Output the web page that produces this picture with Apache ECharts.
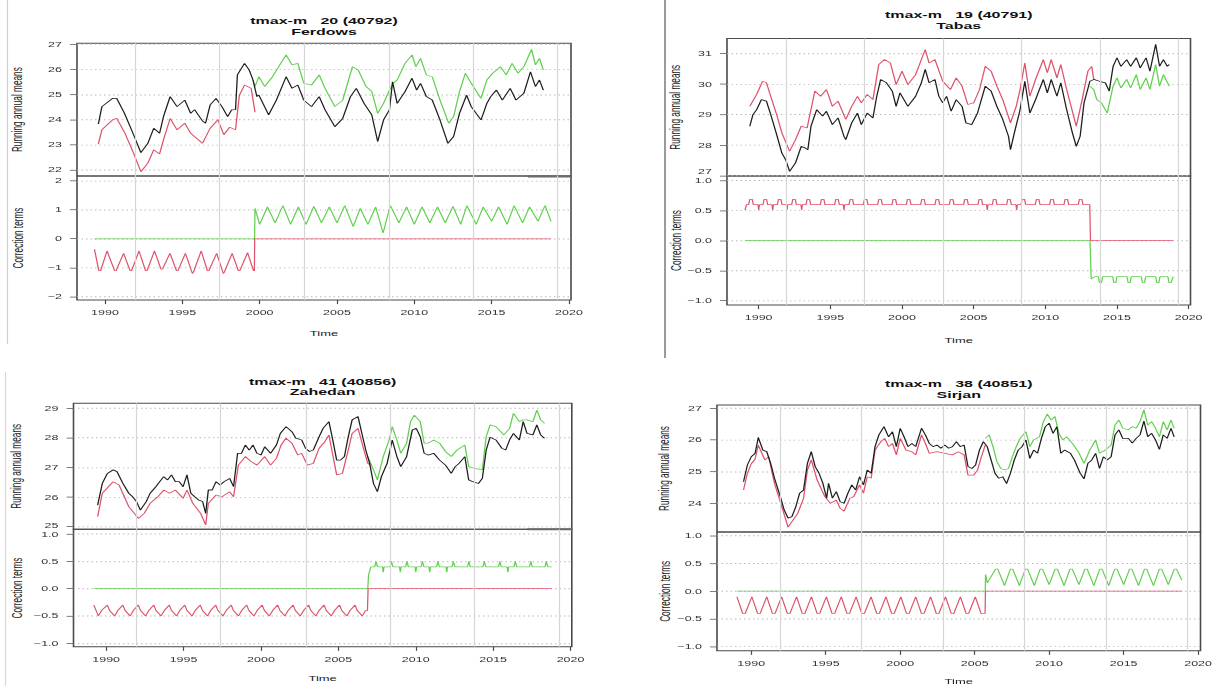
<!DOCTYPE html>
<html>
<head>
<meta charset="utf-8">
<script src="https://cdn.jsdelivr.net/npm/echarts@6/dist/echarts.min.js"></script>
<style>
html,body{margin:0;padding:0;background:#fff;overflow:hidden;width:1217px;height:686px;}
#wrap{width:1217px;height:686px;overflow:hidden;position:relative;}
#chart{width:1217px;transform-origin:0 0;position:absolute;left:0;top:0;}
</style>
</head>
<body>
<div id="wrap"><div id="chart"></div></div>
<script>
// ---------------- DATA ----------------
const yearTicks = [1990, 1995, 2000, 2005, 2010, 2015, 2020];
const gridYears = [1991.95, 1997.4, 2002.9, 2008.35, 2013.8, 2019.25];

// Ferdows
const ferTitle = ['tmax-m   20 (40792)', 'Ferdows'];
const ferTopTicks = [22, 23, 24, 25, 26, 27];
const ferBotTicks = [-2, -1, 0, 1, 2];
const ferBlack = [[1989.57,23.83],[1989.8,24.52],[1990.5,24.85],[1990.76,24.85],[1991.26,24.25],[1991.76,23.53],[1992.32,22.69],[1992.77,23.06],[1993.15,23.66],[1993.53,23.46],[1993.78,24.12],[1994.21,24.92],[1994.66,24.52],[1995.16,24.78],[1995.54,24.25],[1995.79,24.4],[1996.3,23.95],[1996.5,23.86],[1996.8,24.59],[1997.18,24.85],[1997.56,24.52],[1997.93,24.12],[1998.19,24.39],[1998.44,24.4],[1998.56,25.78],[1999.02,26.24],[1999.32,25.98],[1999.57,25.58],[1999.82,24.92],[1999.95,24.98],[2000.58,24.19],[2001.08,24.78],[2001.71,25.71],[2002.09,25.25],[2002.47,25.38],[2002.85,24.78],[2003.35,24.52],[2003.85,24.92],[2004.23,24.39],[2004.86,23.72],[2005.37,24.05],[2005.87,24.92],[2006.25,25.25],[2006.75,24.65],[2007.25,24.19],[2007.63,23.13],[2008.01,23.99],[2008.39,24.39],[2008.59,25.51],[2008.89,24.65],[2009.4,25.12],[2009.85,25.65],[2010.15,25.18],[2010.4,25.45],[2010.78,24.92],[2011.16,24.78],[2011.66,23.99],[2012.17,23.06],[2012.54,23.33],[2012.92,24.25],[2013.38,24.98],[2013.68,24.52],[2014.31,23.99],[2014.69,24.65],[2014.94,24.92],[2015.31,25.18],[2015.69,24.78],[2016.2,25.25],[2016.57,24.78],[2017.08,25.05],[2017.51,25.91],[2017.83,25.32],[2018.09,25.58],[2018.34,25.18]];
const ferRed = [[1989.57,23.03],[1989.8,23.6],[1990.5,24.0],[1990.76,24.05],[1991.26,23.5],[1991.76,22.8],[1992.32,21.93],[1992.77,22.27],[1993.15,22.8],[1993.53,22.64],[1993.78,23.2],[1994.21,24.05],[1994.66,23.6],[1995.16,23.86],[1995.54,23.46],[1996.3,23.06],[1996.8,23.66],[1997.3,24.0],[1997.68,23.4],[1998.06,23.7],[1998.44,23.6],[1998.69,24.98],[1999.02,25.38],[1999.45,25.25],[1999.7,24.3]];
const ferGreen = [[1999.57,25.58],[1999.7,25.32],[1999.95,25.71],[2000.33,25.32],[2000.83,25.71],[2001.71,26.58],[2002.09,26.18],[2002.47,26.24],[2002.85,25.45],[2003.35,25.38],[2003.85,25.78],[2004.23,25.25],[2004.86,24.52],[2005.37,24.78],[2006.0,26.11],[2006.37,25.98],[2006.88,25.32],[2007.25,25.12],[2007.63,24.25],[2008.01,24.65],[2008.39,25.18],[2008.64,25.45],[2008.89,25.58],[2009.4,26.24],[2009.85,26.58],[2010.1,26.11],[2010.4,26.44],[2010.78,25.78],[2011.16,25.71],[2011.66,24.78],[2012.22,23.86],[2012.54,24.12],[2012.92,25.12],[2013.3,25.85],[2013.68,25.45],[2014.31,24.85],[2014.69,25.58],[2015.06,25.85],[2015.57,26.11],[2015.94,25.78],[2016.32,26.24],[2016.7,25.85],[2017.08,26.11],[2017.58,26.8],[2017.83,26.18],[2018.09,26.44],[2018.34,25.98]];
const ferCorrRed = [[1989.32,-0.36],[1989.6,-1.1],[1989.72,-1.1],[1990.13,-0.42],[1990.62,-1.1],[1990.72,-1.1],[1991.2,-0.5],[1991.62,-1.1],[1991.72,-1.1],[1992.2,-0.42],[1992.62,-1.1],[1992.72,-1.1],[1993.2,-0.42],[1993.62,-1.05],[1993.72,-1.05],[1994.2,-0.5],[1994.62,-1.1],[1994.72,-1.1],[1995.2,-0.5],[1995.65,-1.2],[1995.72,-1.15],[1996.22,-0.42],[1996.62,-1.1],[1996.72,-1.1],[1997.22,-0.5],[1997.65,-1.2],[1997.72,-1.15],[1998.22,-0.5],[1998.62,-1.1],[1998.72,-1.1],[1999.22,-0.48],[1999.6,-1.1],[1999.66,-1.1],[1999.68,0],[2018.84,0]];
const ferCorrGreen = [[1989.32,0],[1999.67,0],[1999.7,1.05],[2000.0,0.5],[2000.5,1.1],[2001.0,0.55],[2001.5,1.15],[2002.0,0.5],[2002.5,1.1],[2003.0,0.5],[2003.5,1.12],[2004.0,0.55],[2004.5,1.1],[2005.0,0.55],[2005.5,1.15],[2006.05,0.42],[2006.5,1.05],[2007.0,0.5],[2007.5,1.1],[2007.98,0.2],[2008.45,1.15],[2009.0,0.55],[2009.5,1.1],[2010.0,0.5],[2010.5,1.1],[2011.0,0.55],[2011.5,1.1],[2012.0,0.55],[2012.5,1.12],[2013.0,0.5],[2013.4,1.15],[2014.0,0.5],[2014.45,1.1],[2015.0,0.6],[2015.45,1.1],[2016.0,0.5],[2016.45,1.15],[2017.0,0.55],[2017.45,1.1],[2018.0,0.6],[2018.45,1.15],[2018.84,0.6]];

// Tabas
const tabTitle = ['tmax-m   19 (40791)', 'Tabas'];
const tabTopTicks = [27, 28, 29, 30, 31];
const tabBotTicks = [-1, -0.5, 0, 0.5, 1];
const tabBlack = [[1989.38,28.62],[1989.6,29.0],[1989.86,29.16],[1990.19,29.49],[1990.54,29.44],[1990.81,29.05],[1991.22,28.4],[1991.62,27.74],[1991.89,27.52],[1992.16,27.14],[1992.57,27.42],[1992.97,27.96],[1993.24,27.91],[1993.43,27.85],[1993.65,28.62],[1994.05,29.16],[1994.46,28.95],[1994.73,29.11],[1995.14,28.67],[1995.54,28.89],[1995.95,28.29],[1996.08,28.18],[1996.49,28.73],[1996.89,29.05],[1997.16,28.67],[1997.57,29.05],[1997.97,28.89],[1998.24,29.6],[1998.51,30.15],[1998.92,30.04],[1999.32,29.77],[1999.59,29.27],[1999.86,29.71],[2000.41,29.27],[2000.95,29.6],[2001.35,30.04],[2001.62,30.48],[2001.89,30.04],[2002.3,30.15],[2002.57,29.6],[2002.84,29.38],[2003.11,29.6],[2003.43,29.11],[2003.78,29.49],[2004.19,29.27],[2004.46,28.73],[2004.86,28.67],[2005.27,29.05],[2005.81,29.93],[2006.22,29.77],[2006.62,29.27],[2007.03,28.84],[2007.43,28.29],[2007.57,27.85],[2007.84,28.4],[2008.24,29.16],[2008.57,30.09],[2008.92,29.05],[2009.32,29.49],[2009.86,30.15],[2010.14,29.71],[2010.41,30.15],[2010.81,29.6],[2011.08,30.04],[2011.49,29.16],[2011.89,28.4],[2012.16,27.96],[2012.43,28.29],[2012.7,29.38],[2013.11,30.09],[2013.38,30.15],[2013.78,30.09],[2014.19,30.04],[2014.46,29.77],[2014.73,30.58],[2015.0,30.86],[2015.27,30.58],[2015.68,30.8],[2015.95,30.58],[2016.35,30.86],[2016.62,30.53],[2017.03,30.86],[2017.3,30.42],[2017.7,31.3],[2017.97,30.58],[2018.24,30.8],[2018.51,30.58],[2018.65,30.64]];
const tabRed = [[1989.38,29.27],[1989.86,29.66],[1990.27,30.09],[1990.54,30.04],[1991.22,29.05],[1991.62,28.4],[1992.16,27.8],[1992.57,28.18],[1992.97,28.62],[1993.38,28.56],[1993.92,29.77],[1994.32,29.6],[1994.73,29.82],[1995.14,29.27],[1995.54,29.44],[1996.08,28.84],[1996.49,29.27],[1996.89,29.6],[1997.16,29.38],[1997.57,29.66],[1997.97,29.49],[1998.38,30.64],[1998.78,30.8],[1999.19,30.69],[1999.59,29.98],[2000.0,30.42],[2000.41,29.98],[2000.95,30.31],[2001.62,31.13],[2001.89,30.69],[2002.3,30.8],[2002.84,30.09],[2003.38,29.82],[2003.78,30.2],[2004.19,29.93],[2004.59,29.33],[2005.0,29.38],[2005.41,29.82],[2005.81,30.58],[2006.22,30.42],[2006.62,29.93],[2007.03,29.49],[2007.57,28.73],[2007.97,29.27],[2008.24,29.82],[2008.57,30.69],[2008.92,29.6],[2009.32,30.15],[2009.86,30.8],[2010.14,30.37],[2010.41,30.8],[2010.81,30.2],[2011.08,30.64],[2011.49,29.82],[2012.16,28.62],[2012.57,29.49],[2012.97,30.42],[2013.24,30.58],[2013.38,30.15]];
const tabGreen = [[2013.11,29.93],[2013.38,29.82],[2013.59,29.49],[2013.92,29.38],[2014.32,29.05],[2014.73,29.93],[2015.0,30.2],[2015.27,29.87],[2015.68,30.15],[2015.95,29.87],[2016.35,30.31],[2016.62,29.82],[2017.03,30.2],[2017.3,29.82],[2017.7,30.64],[2017.97,29.93],[2018.24,30.31],[2018.65,29.93]];
const tabCorrRed = [[1989.05,0.51],[1989.15,0.6],[1989.3,0.6],[1989.38,0.69],[1989.55,0.69],[1989.63,0.6],[1989.95,0.6],[1990.0,0.51],[1990.05,0.6],
[1990.3,0.6],[1990.38,0.69],[1990.55,0.69],[1990.63,0.6],[1990.93,0.6],[1990.98,0.51],[1991.03,0.6],
[1991.3,0.6],[1991.38,0.69],[1991.55,0.69],[1991.63,0.6],[1991.93,0.6],[1991.98,0.51],[1992.03,0.6],
[1992.3,0.6],[1992.38,0.69],[1992.55,0.69],[1992.63,0.6],[1992.95,0.6],[1993.0,0.51],[1993.05,0.6],
[1993.3,0.6],[1993.38,0.69],[1993.55,0.69],[1993.63,0.6],
[1994.3,0.6],[1994.38,0.69],[1994.55,0.69],[1994.63,0.6],
[1995.3,0.6],[1995.38,0.69],[1995.55,0.69],[1995.63,0.6],[1995.9,0.6],[1995.95,0.51],[1996.0,0.6],
[1996.3,0.6],[1996.38,0.69],[1996.55,0.69],[1996.63,0.6],
[1997.3,0.6],[1997.38,0.69],[1997.55,0.69],[1997.63,0.6],
[1998.3,0.6],[1998.38,0.69],[1998.55,0.69],[1998.63,0.6],
[1999.3,0.6],[1999.38,0.69],[1999.55,0.69],[1999.63,0.6],
[2000.3,0.6],[2000.38,0.69],[2000.55,0.69],[2000.63,0.6],
[2001.3,0.6],[2001.38,0.69],[2001.55,0.69],[2001.63,0.6],
[2002.3,0.6],[2002.38,0.69],[2002.55,0.69],[2002.63,0.6],
[2003.3,0.6],[2003.38,0.69],[2003.55,0.69],[2003.63,0.6],
[2004.3,0.6],[2004.38,0.69],[2004.55,0.69],[2004.63,0.6],
[2005.3,0.6],[2005.38,0.69],[2005.55,0.69],[2005.63,0.6],[2005.9,0.6],[2005.95,0.51],[2006.0,0.6],
[2006.3,0.6],[2006.38,0.69],[2006.55,0.69],[2006.63,0.6],
[2007.3,0.6],[2007.38,0.69],[2007.55,0.69],[2007.63,0.6],[2007.95,0.6],[2008.0,0.51],[2008.05,0.6],
[2008.3,0.6],[2008.38,0.69],[2008.55,0.69],[2008.63,0.6],
[2009.3,0.6],[2009.38,0.69],[2009.55,0.69],[2009.63,0.6],
[2010.3,0.6],[2010.38,0.69],[2010.55,0.69],[2010.63,0.6],
[2011.3,0.6],[2011.38,0.69],[2011.55,0.69],[2011.63,0.6],
[2012.3,0.6],[2012.38,0.69],[2012.55,0.69],[2012.63,0.6],
[2013.1,0.6],[2013.15,0],[2018.92,0]];
const tabCorrGreen = [[1989.05,0],[2013.12,0],[2013.2,-0.64],[2013.45,-0.6],[2013.7,-0.6],[2013.78,-0.7],[2013.92,-0.7],[2014.0,-0.6],[2014.7,-0.6],[2014.78,-0.7],[2014.92,-0.7],[2015.0,-0.6],[2015.7,-0.6],[2015.78,-0.7],[2015.92,-0.7],[2016.0,-0.6],[2016.7,-0.6],[2016.78,-0.7],[2016.92,-0.7],[2017.0,-0.6],[2017.7,-0.6],[2017.78,-0.7],[2017.92,-0.7],[2018.0,-0.6],[2018.55,-0.6],[2018.63,-0.7],[2018.78,-0.7],[2018.92,-0.6]];

// Zahedan
const zahTitle = ['tmax-m   41 (40856)', 'Zahedan'];
const zahTopTicks = [25, 26, 27, 28, 29];
const zahBotTicks = [-1, -0.5, 0, 0.5, 1];
const zahBlack = [[1989.45,25.73],[1989.75,26.46],[1990.08,26.8],[1990.45,26.92],[1990.7,26.86],[1991.08,26.46],[1991.46,26.13],[1991.71,26.01],[1991.96,25.85],[1992.21,25.56],[1992.59,25.85],[1992.84,26.13],[1993.21,26.35],[1993.46,26.52],[1993.72,26.69],[1993.97,26.58],[1994.22,26.75],[1994.47,26.52],[1994.72,26.52],[1994.97,26.35],[1995.22,26.75],[1995.47,26.13],[1995.72,26.01],[1995.98,25.9],[1996.23,25.85],[1996.43,25.45],[1996.6,26.24],[1996.85,26.24],[1997.1,26.52],[1997.36,26.41],[1997.61,26.52],[1997.98,26.63],[1998.23,26.35],[1998.49,27.48],[1998.74,27.48],[1998.99,27.76],[1999.24,27.59],[1999.49,27.76],[1999.74,27.48],[2000.0,27.42],[2000.24,27.7],[2000.62,27.48],[2001.0,27.76],[2001.25,28.15],[2001.62,28.38],[2002.0,28.21],[2002.25,27.99],[2002.63,27.93],[2002.88,27.65],[2003.13,27.54],[2003.38,27.59],[2003.76,28.04],[2004.01,28.32],[2004.39,28.55],[2004.64,27.93],[2004.89,27.25],[2005.14,27.25],[2005.39,27.37],[2005.64,28.04],[2005.89,28.61],[2006.27,28.72],[2006.52,28.15],[2006.77,27.59],[2007.02,27.14],[2007.27,26.46],[2007.52,26.18],[2007.78,26.69],[2008.15,27.14],[2008.48,27.93],[2008.78,27.37],[2009.03,27.03],[2009.41,27.37],[2009.78,28.27],[2010.03,28.32],[2010.29,28.04],[2010.54,27.48],[2010.79,27.42],[2011.16,27.48],[2011.54,27.25],[2011.92,27.08],[2012.29,26.8],[2012.55,27.03],[2012.8,27.14],[2013.17,27.37],[2013.42,26.58],[2013.68,26.52],[2014.05,26.46],[2014.3,26.63],[2014.55,27.59],[2014.8,28.02],[2015.18,27.93],[2015.56,27.65],[2015.81,27.59],[2016.06,27.93],[2016.31,28.15],[2016.69,27.93],[2016.94,28.55],[2017.19,28.15],[2017.57,28.1],[2017.82,28.44],[2018.07,28.1],[2018.32,27.99]];
const zahRed = [[1989.45,25.34],[1989.75,26.13],[1990.45,26.52],[1990.83,26.41],[1991.46,25.68],[1992.08,25.28],[1992.46,25.45],[1992.84,25.79],[1993.34,26.01],[1993.72,26.24],[1994.09,26.13],[1994.47,26.24],[1994.97,25.96],[1995.22,26.24],[1995.6,25.79],[1996.1,25.45],[1996.43,25.06],[1996.6,25.79],[1997.1,26.07],[1997.48,26.01],[1997.98,26.18],[1998.23,26.01],[1998.54,27.08],[1998.99,27.37],[1999.36,27.2],[1999.74,27.08],[2000.24,27.37],[2000.62,27.08],[2001.0,27.31],[2001.3,27.76],[2001.62,27.99],[2002.0,27.82],[2002.38,27.42],[2002.63,27.48],[2003.0,27.08],[2003.38,27.14],[2003.76,27.65],[2004.13,27.87],[2004.39,28.1],[2004.64,27.42],[2004.89,26.75],[2005.26,26.8],[2005.64,27.59],[2005.89,28.15],[2006.27,28.32],[2006.65,27.59],[2006.9,27.14],[2007.07,27.08]];
const zahGreen = [[2006.9,27.37],[2007.27,26.92],[2007.52,26.58],[2007.9,27.37],[2008.28,27.93],[2008.48,28.38],[2008.78,27.93],[2009.03,27.48],[2009.41,27.82],[2009.66,28.55],[2009.91,28.77],[2010.29,28.55],[2010.54,27.82],[2010.79,27.82],[2011.16,27.93],[2011.54,27.82],[2011.92,27.54],[2012.29,27.37],[2012.67,27.59],[2013.17,27.76],[2013.42,27.03],[2013.8,26.97],[2014.3,26.92],[2014.55,28.04],[2014.8,28.44],[2015.18,28.38],[2015.69,28.1],[2016.06,28.32],[2016.31,28.83],[2016.69,28.55],[2016.94,28.61],[2017.19,28.61],[2017.57,28.55],[2017.82,28.94],[2018.07,28.61],[2018.32,28.49]];
const zahCorrRed = [[1989.2,-0.3],[1989.35,-0.4],[1989.5,-0.5],[1989.7,-0.4],
[1990.08,-0.3],[1990.22,-0.4],[1990.55,-0.5],[1990.75,-0.4],
[1991.08,-0.3],[1991.22,-0.4],[1991.55,-0.5],[1991.75,-0.4],
[1992.08,-0.3],[1992.22,-0.4],[1992.55,-0.5],[1992.75,-0.4],
[1993.08,-0.3],[1993.22,-0.4],[1993.55,-0.5],[1993.75,-0.4],
[1994.08,-0.3],[1994.22,-0.4],[1994.55,-0.5],[1994.75,-0.4],
[1995.08,-0.3],[1995.22,-0.4],[1995.55,-0.5],[1995.75,-0.4],
[1996.08,-0.3],[1996.22,-0.4],[1996.55,-0.5],[1996.75,-0.4],
[1997.08,-0.3],[1997.22,-0.4],[1997.55,-0.5],[1997.75,-0.4],
[1998.08,-0.3],[1998.22,-0.4],[1998.55,-0.5],[1998.75,-0.4],
[1999.08,-0.3],[1999.22,-0.4],[1999.55,-0.5],[1999.75,-0.4],
[2000.08,-0.3],[2000.22,-0.4],[2000.55,-0.5],[2000.75,-0.4],
[2001.08,-0.3],[2001.22,-0.4],[2001.55,-0.5],[2001.75,-0.4],
[2002.08,-0.3],[2002.22,-0.4],[2002.55,-0.5],[2002.75,-0.4],
[2003.08,-0.3],[2003.22,-0.4],[2003.55,-0.5],[2003.75,-0.4],
[2004.08,-0.3],[2004.22,-0.4],[2004.55,-0.5],[2004.75,-0.4],
[2005.08,-0.3],[2005.22,-0.4],[2005.55,-0.5],[2005.75,-0.4],
[2006.08,-0.3],[2006.22,-0.4],[2006.55,-0.5],[2006.75,-0.4],[2006.88,-0.4],[2006.92,0],[2018.78,0]];
const zahCorrGreen = [[1989.2,0],[2006.9,0],[2006.95,0.25],[2007.1,0.4],[2007.35,0.4],[2007.43,0.5],[2007.52,0.4],[2007.85,0.4],[2007.9,0.3],[2007.95,0.4],
[2008.35,0.4],[2008.43,0.5],[2008.52,0.4],[2008.95,0.4],[2009.0,0.3],[2009.05,0.4],
[2009.35,0.4],[2009.43,0.5],[2009.52,0.4],[2009.95,0.4],[2010.0,0.3],[2010.05,0.4],
[2010.35,0.4],[2010.43,0.5],[2010.52,0.4],[2010.85,0.4],[2010.9,0.3],[2010.95,0.4],
[2011.35,0.4],[2011.43,0.5],[2011.52,0.4],[2011.95,0.4],[2012.0,0.3],[2012.05,0.4],
[2012.35,0.4],[2012.43,0.5],[2012.52,0.4],
[2013.35,0.4],[2013.43,0.5],[2013.52,0.4],
[2014.35,0.4],[2014.43,0.5],[2014.52,0.4],
[2015.35,0.4],[2015.43,0.5],[2015.52,0.4],[2015.9,0.4],[2015.95,0.3],[2016.0,0.4],
[2016.35,0.4],[2016.43,0.5],[2016.52,0.4],
[2017.35,0.4],[2017.43,0.5],[2017.52,0.4],
[2018.35,0.4],[2018.43,0.5],[2018.52,0.4],[2018.78,0.4]];

// Sirjan
const sirTitle = ['tmax-m   38 (40851)', 'Sirjan'];
const sirTopTicks = [24, 25, 26, 27];
const sirBotTicks = [-1, -0.5, 0, 0.5, 1];
const sirBlack = [[1989.48,24.68],[1989.74,25.21],[1990.0,25.47],[1990.26,25.58],[1990.47,26.08],[1990.78,25.68],[1991.04,25.63],[1991.3,25.26],[1991.56,24.79],[1991.95,24.21],[1992.21,23.79],[1992.47,23.53],[1992.73,23.58],[1992.99,23.89],[1993.25,24.32],[1993.51,24.42],[1993.77,25.26],[1994.03,25.63],[1994.29,25.16],[1994.55,24.95],[1994.81,24.63],[1995.06,24.16],[1995.19,24.63],[1995.45,24.16],[1995.71,24.37],[1995.97,24.05],[1996.23,24.0],[1996.49,24.32],[1996.75,24.58],[1997.01,24.42],[1997.27,24.84],[1997.53,24.58],[1997.79,25.05],[1998.05,24.95],[1998.31,25.79],[1998.57,26.16],[1998.91,26.42],[1999.22,26.1],[1999.48,26.26],[1999.74,25.79],[2000.0,26.37],[2000.26,26.1],[2000.52,25.79],[2000.78,25.89],[2001.04,25.79],[2001.43,26.37],[2001.69,26.16],[2001.95,25.89],[2002.21,25.79],[2002.47,25.84],[2002.73,25.74],[2002.99,25.84],[2003.25,25.74],[2003.51,25.79],[2003.77,25.95],[2004.03,25.79],[2004.29,25.84],[2004.55,25.16],[2004.81,25.1],[2005.06,25.21],[2005.32,25.68],[2005.58,25.95],[2005.84,25.79],[2006.1,25.37],[2006.36,24.95],[2006.62,24.79],[2006.88,24.84],[2007.14,24.62],[2007.4,24.95],[2007.66,25.37],[2007.92,25.68],[2008.18,25.79],[2008.44,26.0],[2008.7,25.42],[2008.96,25.68],[2009.22,25.58],[2009.48,26.05],[2009.74,26.42],[2010.0,26.53],[2010.26,26.21],[2010.52,26.42],[2010.78,25.58],[2011.04,25.68],[2011.43,25.58],[2011.69,25.37],[2012.08,24.95],[2012.34,24.77],[2012.6,25.26],[2012.86,25.37],[2013.12,25.58],[2013.38,25.1],[2013.64,25.47],[2013.9,25.37],[2014.16,25.47],[2014.42,26.16],[2014.68,26.32],[2014.94,26.05],[2015.32,26.05],[2015.58,25.9],[2015.84,26.05],[2016.1,26.16],[2016.36,26.6],[2016.62,26.1],[2016.88,26.21],[2017.14,26.0],[2017.4,25.7],[2017.66,26.16],[2017.92,26.05],[2018.18,26.37],[2018.39,26.1]];
const sirRed = [[1989.48,24.42],[1989.74,24.95],[1990.0,25.25],[1990.26,25.4],[1990.47,25.84],[1990.91,25.37],[1991.17,25.47],[1991.56,24.63],[1991.95,24.05],[1992.47,23.25],[1992.73,23.42],[1993.12,23.68],[1993.51,24.16],[1993.77,25.05],[1994.03,25.37],[1994.42,24.74],[1994.94,24.21],[1995.32,24.0],[1995.71,24.1],[1995.97,23.84],[1996.23,23.75],[1996.62,24.16],[1996.88,24.21],[1997.27,24.58],[1997.53,24.32],[1997.79,24.84],[1998.05,24.79],[1998.31,25.68],[1998.7,25.95],[1998.96,26.05],[1999.22,25.79],[1999.48,25.89],[1999.74,25.53],[2000.0,26.05],[2000.39,25.68],[2000.78,25.63],[2001.04,25.53],[2001.43,26.16],[2001.69,25.89],[2001.95,25.58],[2002.47,25.63],[2002.99,25.58],[2003.51,25.53],[2003.9,25.63],[2004.29,25.53],[2004.55,24.89],[2004.94,24.89],[2005.19,25.05],[2005.45,25.47],[2005.71,25.84]];
const sirGreen = [[2005.71,26.05],[2005.97,26.16],[2006.23,25.79],[2006.49,25.32],[2006.75,25.1],[2007.01,25.05],[2007.27,25.1],[2007.53,25.47],[2007.79,25.79],[2008.05,26.05],[2008.44,26.26],[2008.7,25.79],[2008.96,26.0],[2009.35,26.1],[2009.61,26.58],[2009.87,26.82],[2010.13,26.63],[2010.39,26.74],[2010.65,26.21],[2010.91,26.0],[2011.17,26.1],[2011.56,25.89],[2011.95,25.63],[2012.34,25.26],[2012.73,25.68],[2013.12,26.0],[2013.38,25.58],[2013.77,25.68],[2014.16,25.84],[2014.42,26.47],[2014.68,26.63],[2014.94,26.37],[2015.32,26.32],[2015.58,26.42],[2015.84,26.37],[2016.1,26.58],[2016.36,26.95],[2016.62,26.47],[2016.88,26.58],[2017.14,26.37],[2017.4,26.1],[2017.66,26.58],[2017.92,26.32],[2018.18,26.63],[2018.39,26.37]];
const sirCorrRed = [[1989.04,-0.1],[1989.42,-0.4],[1989.6,-0.4],[1990.04,-0.1],[1990.42,-0.4],[1990.6,-0.4],[1991.04,-0.1],[1991.42,-0.4],[1991.6,-0.4],[1992.04,-0.1],[1992.42,-0.4],[1992.6,-0.4],[1993.04,-0.1],[1993.42,-0.4],[1993.6,-0.4],[1994.04,-0.1],[1994.42,-0.4],[1994.6,-0.4],[1995.04,-0.1],[1995.42,-0.4],[1995.6,-0.4],[1996.04,-0.1],[1996.42,-0.4],[1996.6,-0.4],[1997.04,-0.1],[1997.42,-0.4],[1997.6,-0.4],[1998.04,-0.1],[1998.42,-0.4],[1998.6,-0.4],[1999.04,-0.1],[1999.42,-0.4],[1999.6,-0.4],[2000.04,-0.1],[2000.42,-0.4],[2000.6,-0.4],[2001.04,-0.1],[2001.42,-0.4],[2001.6,-0.4],[2002.04,-0.1],[2002.42,-0.4],[2002.6,-0.4],[2003.04,-0.1],[2003.42,-0.4],[2003.6,-0.4],[2004.04,-0.1],[2004.42,-0.4],[2004.6,-0.4],[2005.04,-0.1],[2005.42,-0.4],[2005.7,-0.4],[2005.72,0],[2018.9,0]];
const sirCorrGreen = [[1989.04,0],[2005.71,0],[2005.73,0.3],[2005.85,0.15],[2006.4,0.4],[2006.55,0.4],[2007.0,0.1],[2007.4,0.4],[2007.55,0.4],[2008.0,0.1],[2008.4,0.4],[2008.55,0.4],[2009.0,0.1],[2009.4,0.4],[2009.55,0.4],[2010.0,0.12],[2010.4,0.4],[2010.55,0.4],[2011.0,0.1],[2011.4,0.4],[2011.55,0.4],[2012.0,0.12],[2012.4,0.4],[2012.55,0.4],[2013.0,0.1],[2013.4,0.4],[2013.55,0.4],[2014.0,0.1],[2014.4,0.4],[2014.55,0.4],[2015.0,0.12],[2015.4,0.4],[2015.55,0.4],[2016.0,0.1],[2016.4,0.4],[2016.55,0.4],[2017.0,0.1],[2017.4,0.4],[2017.55,0.4],[2018.0,0.12],[2018.4,0.4],[2018.55,0.4],[2018.9,0.2]];

// ---------------- LAYOUT / STYLE ----------------
const S = 0.59;                 // vertical squash of the reference picture
const H = 686 / S;
const Y = p => p / S;
const FONT = '"Liberation Sans", Arial, Helvetica, sans-serif';
const C_BLACK = '#1e1e1e', C_RED = '#DF536B', C_GREEN = '#61D04F';

const panels = [
  {title: ferTitle, black: ferBlack, red: ferRed, green: ferGreen, cRed: ferCorrRed, cGreen: ferCorrGreen,
   topTicks: ferTopTicks, botTicks: ferBotTicks, botDec: 0,
   L: 77, R: 571, T: 43.3, D: 176, B: 300, x: [1988.19, 2020.13], yTop: [21.76, 27.04], yBot: [-2.115, 2.17],
   t1: 20.7, t2: 31.7, nameX: 17.5, timeY: 333, seg: 2017.35, lift: 0},
  {title: tabTitle, black: tabBlack, red: tabRed, green: tabGreen, cRed: tabCorrRed, cGreen: tabCorrGreen,
   topTicks: tabTopTicks, botTicks: tabBotTicks, botDec: 1,
   L: 727, R: 1190.5, T: 38.5, D: 176, B: 305, x: [1987.79, 2020.13], yTop: [26.99, 31.49], yBot: [-1.072, 1.078],
   t1: 15, t2: 25.5, nameX: 675, timeY: 340, seg: null, lift: 14},
  {title: zahTitle, black: zahBlack, red: zahRed, green: zahGreen, cRed: zahCorrRed, cGreen: zahCorrGreen,
   topTicks: zahTopTicks, botTicks: zahBotTicks, botDec: 1,
   L: 73.5, R: 571.8, T: 403.3, D: 529.3, B: 646.7, x: [1987.89, 2020.08], yTop: [24.912, 29.169], yBot: [-1.062, 1.086],
   t1: 381.7, t2: 391.7, nameX: 16, timeY: 678, seg: 2017.2, lift: 4},
  {title: sirTitle, black: sirBlack, red: sirRed, green: sirGreen, cRed: sirCorrRed, cGreen: sirCorrGreen,
   topTicks: sirTopTicks, botTicks: sirBotTicks, botDec: 1,
   L: 717, R: 1200.5, T: 405, D: 532, B: 650.7, x: [1987.7, 2020.16], yTop: [23.094, 27.104], yBot: [-1.072, 1.067],
   t1: 384, t2: 394.5, nameX: 664, timeY: 681, seg: null, lift: 0}
];

const fmtNum = (v, dec) => (dec ? Number(v).toFixed(1) : String(Math.round(v))).replace('-', '\u2212');

const grids = [], xAxes = [], yAxes = [], series = [], graphics = [];
const LABEL_STYLE = {fontFamily: FONT, fontSize: 12.5, color: '#333'};

function lineSeries(gi, data, color, z, width) {
  return {type: 'line', xAxisIndex: gi, yAxisIndex: gi, data: data, showSymbol: false, symbol: 'none',
          lineStyle: {color: color, width: width}, z: z, silent: true, animation: false};
}

panels.forEach((p, i) => {
  const gT = 2 * i, gB = 2 * i + 1;
  const w = p.R - p.L;
  [[gT, p.T, p.D], [gB, p.D, p.B]].forEach(([gi, t, b]) => {
    grids.push({left: p.L, top: Y(t), width: w, height: Y(b) - Y(t), show: true,
                borderColor: '#4a4a4a', borderWidth: 1.6, backgroundColor: 'transparent', containLabel: false});
  });
  // x axes
  xAxes.push({type: 'value', gridIndex: gT, min: p.x[0], max: p.x[1],
              axisLine: {show: false, onZero: false}, axisTick: {show: false}, axisLabel: {show: false}, splitLine: {show: false}});
  xAxes.push({type: 'value', gridIndex: gB, min: p.x[0], max: p.x[1], position: 'bottom',
              axisLine: {show: false, onZero: false},
              axisTick: {show: true, length: 7, lineStyle: {color: '#4a4a4a', width: 1.2}, customValues: yearTicks},
              axisLabel: Object.assign({show: true, customValues: yearTicks, margin: 15,
                          formatter: v => String(Math.round(v))}, LABEL_STYLE),
              splitLine: {show: false}});
  // y axes
  [[gT, p.yTop, p.topTicks, 0, p.lift], [gB, p.yBot, p.botTicks, p.botDec, 0]].forEach(([gi, rng, ticks, dec, lift]) => {
    yAxes.push({type: 'value', gridIndex: gi, min: rng[0], max: rng[1],
                axisLine: {show: false, onZero: false},
                axisTick: {show: true, length: 7, lineStyle: {color: '#4a4a4a', width: 1.2}, customValues: ticks},
                axisLabel: Object.assign({show: true, customValues: ticks, margin: 15,
                            formatter: v => (lift && v === ticks[0]) ? '{up|' + fmtNum(v, dec) + '}' : fmtNum(v, dec),
                            rich: {up: Object.assign({padding: [0, 0, lift, 0]}, LABEL_STYLE)}}, LABEL_STYLE),
                splitLine: {show: true, lineStyle: {type: [1.5, 3], color: '#b8b8b8', width: 1.6}}});
  });
  // helper series carrying vertical grid lines
  [[gT, p.yTop], [gB, p.yBot]].forEach(([gi, rng]) => {
    const mlData = gridYears.map(v => ({xAxis: v}));
    if (gi === gT && p.seg !== null) {
      mlData.push([{coord: [p.seg, rng[0]], lineStyle: {color: '#6a6a6a', width: 3.5, type: 'solid'}},
                   {coord: [p.x[1], rng[0]]}]);
    }
    series.push({type: 'line', xAxisIndex: gi, yAxisIndex: gi, data: [[p.x[0], rng[0]]], symbol: 'none',
                 lineStyle: {opacity: 0}, silent: true, z: 1, animation: false,
                 markLine: {silent: true, animation: false, symbol: ['none', 'none'], label: {show: false},
                            lineStyle: {color: '#d6d6d6', width: 1.2, type: 'solid'}, data: mlData}});
  });
  // running annual means
  series.push(lineSeries(gT, p.red, C_RED, 3, 1.3));
  series.push(lineSeries(gT, p.green, C_GREEN, 3, 1.3));
  series.push(lineSeries(gT, p.black, C_BLACK, 4, 1.3));
  // correction terms
  series.push(lineSeries(gB, p.cGreen, C_GREEN, 3, 1.25));
  series.push(lineSeries(gB, p.cRed, C_RED, 4, 1.25));

  // titles
  const cx = (p.L + p.R) / 2;
  [[p.title[0], p.t1], [p.title[1], p.t2]].forEach(([txt, ty]) => {
    graphics.push({type: 'text', x: cx, y: Y(ty), silent: true,
      style: {text: txt, fontFamily: FONT, fontSize: 16, fontWeight: 'bold', fill: '#111',
              align: 'center', verticalAlign: 'middle', textAlign: 'center', textVerticalAlign: 'middle'}});
  });
  // axis names
  graphics.push({type: 'text', x: p.nameX, y: Y((p.T + p.D) / 2), rotation: Math.PI / 2, silent: true,
    style: {text: 'Running annual means', fontFamily: FONT, fontSize: 14, fill: '#222',
            align: 'center', verticalAlign: 'middle', textAlign: 'center', textVerticalAlign: 'middle'}});
  graphics.push({type: 'text', x: p.nameX + 1, y: Y((p.D + p.B) / 2), rotation: Math.PI / 2, silent: true,
    style: {text: 'Correction terms', fontFamily: FONT, fontSize: 14, fill: '#222',
            align: 'center', verticalAlign: 'middle', textAlign: 'center', textVerticalAlign: 'middle'}});
  graphics.push({type: 'text', x: cx, y: Y(p.timeY), silent: true,
    style: {text: 'Time', fontFamily: FONT, fontSize: 13, fill: '#222',
            align: 'center', verticalAlign: 'middle', textAlign: 'center', textVerticalAlign: 'middle'}});
});

// frame lines of the composed figure
graphics.push({type: 'line', silent: true, shape: {x1: 7.5, y1: 0, x2: 7.5, y2: Y(344)}, style: {stroke: '#d0d0d0', lineWidth: 1.2}});
graphics.push({type: 'line', silent: true, shape: {x1: 665, y1: 0, x2: 665, y2: Y(358)}, style: {stroke: '#9a9a9a', lineWidth: 2}});
graphics.push({type: 'line', silent: true, shape: {x1: 5.5, y1: Y(372), x2: 5.5, y2: H}, style: {stroke: '#d8d8d8', lineWidth: 1.2}});

const el = document.getElementById('chart');
el.style.height = H + 'px';
el.style.transform = 'scaleY(' + S + ')';
const chart = echarts.init(el, null, {renderer: 'svg', width: 1217, height: H});
chart.setOption({
  animation: false,
  backgroundColor: '#ffffff',
  grid: grids,
  xAxis: xAxes,
  yAxis: yAxes,
  series: series,
  graphic: {elements: graphics}
});
</script>
</body>
</html>
